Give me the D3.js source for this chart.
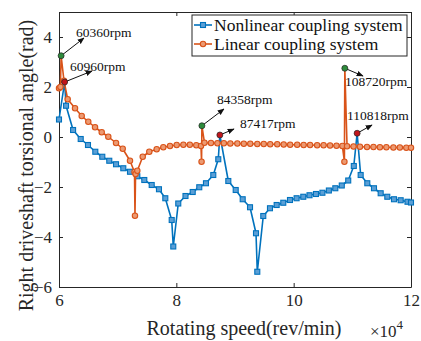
<!DOCTYPE html>
<html><head><meta charset="utf-8">
<script src="https://cdn.jsdelivr.net/npm/d3@7"></script>
<style>html,body{margin:0;padding:0;background:#fff}svg{display:block}</style>
</head><body><svg id="c" width="421" height="341"></svg>
<script>
// ---- data ----
const nonlinearRpm = [60000,60960,61200,62400,63700,64940,66190,67380,68570,69720,70960,72100,73350,74540,75800,77040,78120,79210,79480,80330,81560,82790,83910,85050,86300,87150,87417,88860,90120,91310,92560,93580,93800,94820,95960,97100,98230,99370,100500,101640,102700,103800,104900,106000,107100,108200,109300,110250,110818,111420,112550,113690,114830,115960,117100,118240,119400,120000];
const nonlinearVal = [0.70,2.20,1.25,0.28,-0.08,-0.32,-0.59,-0.79,-0.95,-1.09,-1.25,-1.39,-1.57,-1.72,-1.92,-2.09,-2.45,-3.32,-4.38,-2.66,-2.36,-2.20,-2.01,-1.85,-1.52,-0.89,0.08,-1.76,-2.12,-2.49,-2.81,-3.85,-5.39,-3.16,-2.85,-2.72,-2.63,-2.52,-2.45,-2.39,-2.33,-2.28,-2.23,-2.14,-2.05,-1.94,-1.74,-1.16,0.15,-1.52,-1.85,-2.05,-2.25,-2.39,-2.49,-2.53,-2.59,-2.62];
const linearRpm = [60000,60240,60360,60850,61480,62730,63870,64990,66140,67280,68400,69720,70860,72100,72870,72950,73050,73350,74270,75390,76650,77780,78920,80060,81200,82300,83400,84200,84300,84358,84800,85900,87000,88100,89200,90400,91500,92600,93800,94900,96000,97200,98300,99400,100600,101700,102800,104000,105100,106200,107300,108300,108650,108720,109100,110200,111300,112500,113600,114700,115800,117000,118100,119200,120000];
const linearVal = [1.95,2.00,3.25,2.25,1.51,1.15,0.84,0.61,0.39,0.19,0.01,-0.24,-0.47,-0.95,-1.40,-3.15,-1.48,-1.35,-0.79,-0.59,-0.49,-0.41,-0.36,-0.32,-0.31,-0.31,-0.33,-0.36,-0.99,0.45,-0.23,-0.24,-0.25,-0.25,-0.26,-0.26,-0.27,-0.27,-0.28,-0.28,-0.29,-0.29,-0.30,-0.31,-0.31,-0.32,-0.32,-0.33,-0.33,-0.34,-0.35,-0.36,-0.99,2.75,-0.37,-0.38,-0.39,-0.40,-0.40,-0.41,-0.41,-0.42,-0.42,-0.43,-0.43];
const peakRpm   = [60360, 60960, 84358, 87417, 108720, 110818];
const peakVal   = [3.25, 2.20, 0.45, 0.08, 2.75, 0.15];
const peakKind  = ["linear","nonlinear","linear","nonlinear","linear","nonlinear"];
const peakLabel = ["60360rpm","60960rpm","84358rpm","87417rpm","108720rpm","110818rpm"];
const seriesNames = ["Nonlinear coupling system","Linear coupling system"];
const xTicks = [60000,80000,100000,120000];
const yTicks = [-6,-4,-2,0,2,4];

// ---- layout ----
const svg = d3.select("#c");
const L=59, R=411, T=12, B=287;
const x = d3.scaleLinear().domain([60000,120000]).range([L,R]);
const y = d3.scaleLinear().domain([-6,5]).range([B,T]);
const blue="#0072BD", orange="#D95319";
const serif="'Liberation Serif','Times New Roman',serif";

// axes
const ax = svg.append("g").attr("font-family",serif);
function styleAxis(g){g.attr("font-family",serif);g.select(".domain").attr("stroke","#262626");g.selectAll(".tick line").attr("stroke","#262626");g.selectAll("text").attr("fill","#262626");}
ax.append("g").attr("transform",`translate(0,${B})`)
  .call(d3.axisBottom(x).tickValues(xTicks).tickFormat(d=>d/1e4).tickSizeInner(-4).tickSizeOuter(0).tickPadding(7))
  .call(styleAxis).selectAll("text").attr("font-size",17);
ax.append("g").attr("transform",`translate(0,${T})`)
  .call(d3.axisTop(x).tickValues(xTicks).tickFormat("").tickSizeInner(-4).tickSizeOuter(0)).call(styleAxis);
ax.append("g").attr("transform",`translate(${L},0)`)
  .call(d3.axisLeft(y).tickValues(yTicks).tickSizeInner(-4).tickSizeOuter(0).tickPadding(7))
  .call(styleAxis).selectAll("text").attr("font-size",17);
ax.append("g").attr("transform",`translate(${R},0)`)
  .call(d3.axisRight(y).tickValues(yTicks).tickFormat("").tickSizeInner(-4).tickSizeOuter(0)).call(styleAxis);

// axis labels
svg.append("text").attr("x",(L+R)/2+9).attr("y",335).attr("text-anchor","middle")
  .attr("font-family",serif).attr("font-size",20).attr("fill","#262626").text("Rotating speed(rev/min)");
const ex = svg.append("text").attr("x",370).attr("y",337).attr("font-family",serif).attr("font-size",17).attr("fill","#262626");
ex.append("tspan").text("\u00d710");
ex.append("tspan").attr("dy",-8).attr("font-size",13).text("4");
svg.append("text").attr("transform",`translate(33,${(T+B)/2+16}) rotate(-90)`).attr("text-anchor","middle")
  .attr("font-family",serif).attr("font-size",20).attr("fill","#262626").text("Right driveshaft torsional angle(rad)");

// lines
const plot = svg.append("g");
const isPeak = r => peakRpm.includes(r);
function drawSeries(rpm, val, color, shape){
  const pts = rpm.map((r,i)=>[r,val[i]]);
  plot.append("path").datum(pts).attr("fill","none").attr("stroke",color).attr("stroke-width",1.6)
    .attr("stroke-linejoin","round")
    .attr("d", d3.line().x(d=>x(d[0])).y(d=>y(d[1])));
  const m = pts.filter(d=>!isPeak(d[0]));
  if(shape==="square"){
    plot.append("g").selectAll("rect").data(m).join("rect")
      .attr("x",d=>x(d[0])-2.5).attr("y",d=>y(d[1])-2.5).attr("width",5).attr("height",5)
      .attr("fill","#5b9fd6").attr("stroke",color).attr("stroke-width",1.1);
  } else {
    plot.append("g").selectAll("circle").data(m).join("circle")
      .attr("cx",d=>x(d[0])).attr("cy",d=>y(d[1])).attr("r",2.7)
      .attr("fill","#ec9a72").attr("stroke",color).attr("stroke-width",1.1);
  }
}
drawSeries(nonlinearRpm, nonlinearVal, blue, "square");
drawSeries(linearRpm, linearVal, orange, "circle");

// annotations
const labelPos = [[76,37],[70,71],[217,104],[240,128],[345,86],[347,120]];
const arrowTip = [[84,38],[92,71],[224,109],[234,129],[363,76],[372,125]];
const defs = svg.append("defs");
defs.append("marker").attr("id","ah").attr("viewBox","0 0 10 10").attr("refX",9).attr("refY",5)
  .attr("markerWidth",7).attr("markerHeight",7).attr("orient","auto-start-reverse")
  .append("path").attr("d","M0,1L10,5L0,9z").attr("fill","#111");
const ann = svg.append("g");
peakRpm.forEach((r,i)=>{
  const px=x(r), py=y(peakVal[i]);
  ann.append("line").attr("x1",px).attr("y1",py).attr("x2",arrowTip[i][0]).attr("y2",arrowTip[i][1])
    .attr("stroke","#111").attr("stroke-width",1).attr("marker-end","url(#ah)");
  ann.append("circle").attr("cx",px).attr("cy",py).attr("r",3)
    .attr("fill",peakKind[i]==="linear"?"#2e8b3c":"#c0161c").attr("stroke","#222").attr("stroke-width",0.7);
  ann.append("text").attr("x",labelPos[i][0]).attr("y",labelPos[i][1]).attr("font-family",serif)
    .attr("font-size",13.5).attr("fill","#111").text(peakLabel[i]);
});

// legend
const lg = svg.append("g");
lg.append("rect").attr("x",192).attr("y",15).attr("width",215).attr("height",41).attr("fill","#fff").attr("stroke","#262626").attr("stroke-width",1);
[[blue,"square",25],[orange,"circle",44]].forEach((s,i)=>{
  lg.append("line").attr("x1",194).attr("x2",212).attr("y1",s[2]).attr("y2",s[2]).attr("stroke",s[0]).attr("stroke-width",1.6);
  if(s[1]==="square") lg.append("rect").attr("x",200.5).attr("y",s[2]-2.5).attr("width",5).attr("height",5).attr("fill","#5b9fd6").attr("stroke",s[0]).attr("stroke-width",1.1);
  else lg.append("circle").attr("cx",203).attr("cy",s[2]).attr("r",2.7).attr("fill","#ec9a72").attr("stroke",s[0]).attr("stroke-width",1.1);
  lg.append("text").attr("x",214).attr("y",s[2]+6).attr("font-family",serif).attr("font-size",17.5).attr("fill","#111").text(seriesNames[i]);
});
</script></body></html>
